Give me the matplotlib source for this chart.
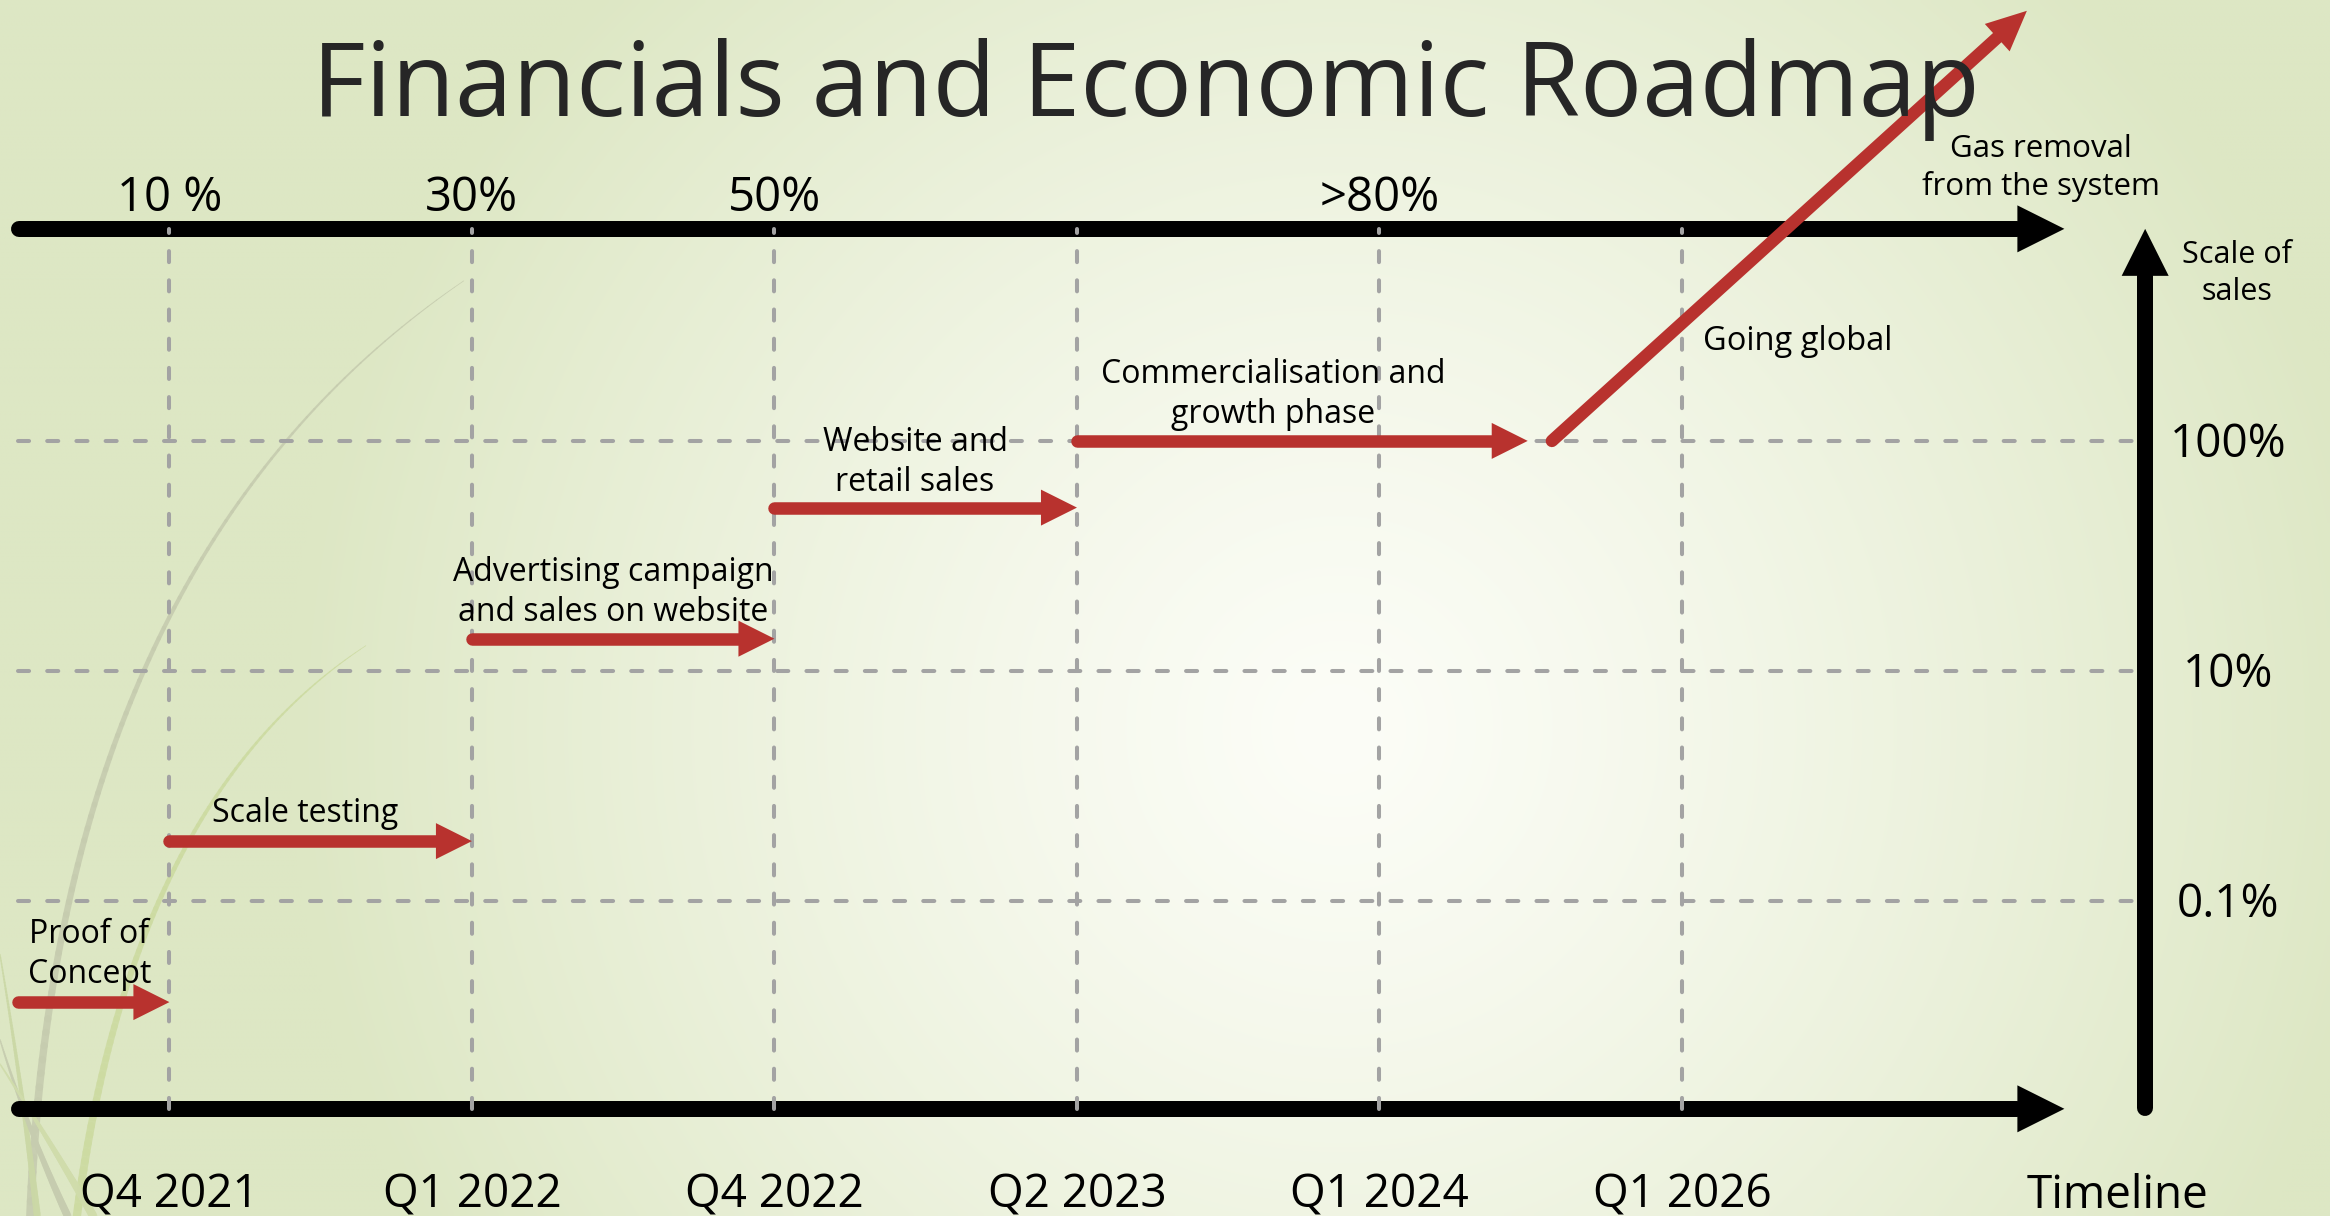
import numpy as np
import matplotlib
matplotlib.use("Agg")
import matplotlib.pyplot as plt
from matplotlib.patches import Polygon
from matplotlib.collections import LineCollection

plt.rcParams['font.family'] = ['Open Sans', 'DejaVu Sans']

# ---------------- data ----------------
quarters = ["Q4 2021", "Q1 2022", "Q4 2022", "Q2 2023", "Q1 2024", "Q1 2026"]
completion = ["10 %", "30%", "50%", "", ">80%", ""]
sales_scale = ["0.1%", "10%", "100%"]
sales_level = [1, 2, 3]

stages = ["Proof of\nConcept", "Scale testing",
          "Advertising campaign\nand sales on website",
          "Website and\nretail sales", "Commercialisation and\ngrowth phase"]
stage_start = [-0.50, 0, 1, 2, 3]
stage_end = [0, 1, 2, 3, 4.49]
stage_level = [0.56, 1.26, 2.14, 2.71, 3.0]
stage_label_x = [-0.265, 0.45, 1.466, 2.465, 3.648]
stage_label_y = [0.822, 1.343, 2.396, 2.961, 3.257]   # first-line baselines

global_start = (4.57, 3.0)
global_end = (6.14, 4.87)
global_labels = ["Going global", "Gas removal\nfrom the system"]
global_label_x = [5.384, 6.187]
global_label_y = [3.396, 4.230]

# ---------------- layout ----------------
X_MIN, X_MAX = -0.560, 7.142
Y_MIN, Y_MAX = -0.370, 4.917
TOP_AXIS, BOTTOM_AXIS = 3.922, 0.096
AXIS_LEFT, AXIS_TIP = -0.497, 6.264
SCALE_X, SCALE_BOTTOM = 6.531, 0.100

RED = '#b8322e'
GRID = '#a3a3a3'
INK = '#000000'

fig = plt.figure(figsize=(23.30, 12.16), dpi=100)
ax = fig.add_axes([0, 0, 1, 1])
ax.set_xlim(X_MIN, X_MAX)
ax.set_ylim(Y_MIN, Y_MAX)
ax.axis('off')

# ---------------- background ----------------
W, H = 466, 244
u = np.linspace(0, 1, W)[None, :]
v = np.linspace(0, 1, H)[:, None]
dx = (u - 0.575) * 2330
dy = (v - 0.60) * 1216
t = np.clip(np.hypot(dx, dy) / 1050.0, 0, 1) ** 1.25
centre = np.array([252, 253, 247]) / 255
edge = np.array([221, 231, 196]) / 255
img = centre[None, None, :] * (1 - t[..., None]) + edge[None, None, :] * t[..., None]
ax.imshow(img, extent=(X_MIN, X_MAX, Y_MIN, Y_MAX), origin='upper',
          aspect='auto', interpolation='bilinear', zorder=0)


def blade(p0, c, p1, w0, w1, color, alpha):
    """Tapered quadratic curve in axes-fraction coordinates."""
    s = np.linspace(0, 1, 90)[:, None]
    p0, c, p1 = map(np.asarray, (p0, c, p1))
    pts = (1 - s) ** 2 * p0 + 2 * (1 - s) * s * c + s ** 2 * p1
    segs = np.stack([pts[:-1], pts[1:]], axis=1)
    widths = np.linspace(w0, w1, len(segs))
    lc = LineCollection(segs, linewidths=widths, colors=color, alpha=alpha,
                        transform=ax.transAxes, zorder=1, capstyle='round')
    ax.add_collection(lc)


# decorative grass in the lower-left corner
blade((0.013, 0.0), (0.024, 0.54), (0.199, 0.769), 6.0, 0.5, '#c6ccaf', 0.9)
blade((0.033, 0.0), (0.056, 0.342), (0.157, 0.469), 6.0, 0.5, '#cddba2', 0.9)
blade((0.0, 0.215), (0.010, 0.10), (0.016, 0.0), 1.0, 5.0, '#cbd8a6', 0.85)
blade((0.0, 0.145), (0.012, 0.07), (0.029, 0.0), 1.0, 5.5, '#c6ccaf', 0.8)
blade((0.0, 0.125), (0.022, 0.06), (0.040, 0.0), 1.0, 6.0, '#d0dcab', 0.85)

# ---------------- arrow helper ----------------
T = ax.transData
Ti = T.inverted()


def arrow(p0, p1, lw_px, head_len, head_half, color, z):
    a = T.transform(p0)
    b = T.transform(p1)
    d = b - a
    unit = d / np.hypot(*d)
    nrm = np.array([-unit[1], unit[0]])
    base = b - unit * head_len
    shaft_end = Ti.transform(base)
    ax.plot([p0[0], shaft_end[0]], [p0[1], shaft_end[1]], color=color,
            lw=lw_px * 0.72, solid_capstyle='round', zorder=z)
    tri = np.array([b, base + nrm * head_half, base - nrm * head_half])
    ax.add_patch(Polygon(Ti.transform(tri), closed=True, facecolor=color,
                         edgecolor='none', zorder=z))


# ---------------- black axes ----------------
arrow((AXIS_LEFT, TOP_AXIS), (AXIS_TIP, TOP_AXIS), 16, 47, 23.5, INK, 2)
arrow((AXIS_LEFT, BOTTOM_AXIS), (AXIS_TIP, BOTTOM_AXIS), 16, 47, 23.5, INK, 2)
arrow((SCALE_X, SCALE_BOTTOM), (SCALE_X, TOP_AXIS), 16, 47, 23.5, INK, 2)

# ---------------- dashed grid ----------------
dash = (0, (2.75, 4.5))
grid_kw = dict(color=GRID, lw=2.9, ls=dash, dash_capstyle='round', zorder=3)
for i in range(len(quarters)):
    ax.plot([i, i], [BOTTOM_AXIS, TOP_AXIS], **grid_kw)
for lvl in sales_level:
    ax.plot([-0.50, SCALE_X], [lvl, lvl], **grid_kw)

# ---------------- stage arrows ----------------
for s0, s1, lvl in zip(stage_start, stage_end, stage_level):
    arrow((s0, lvl), (s1, lvl), 12.5, 36, 18, RED, 4)
arrow(global_start, global_end, 12.5, 40, 18.5, RED, 4)


def label(x, y, text, size):
    """Text whose first-line baseline sits at (x, y)."""
    if '\n' in text:
        ax.annotate(text, xy=(x, y), xytext=(0, 0.76 * size),
                    textcoords='offset points', ha='center', va='top',
                    fontsize=size, color=INK, linespacing=1.3, zorder=5)
    else:
        ax.text(x, y, text, ha='center', va='baseline', fontsize=size,
                color=INK, zorder=5)


for txt, lx, ly in zip(stages, stage_label_x, stage_label_y):
    label(lx, ly, txt, 23)
label(global_label_x[0], global_label_y[0], global_labels[0], 23.5)
label(global_label_x[1], global_label_y[1], global_labels[1], 22.5)
label(6.835, 3.774, "Scale of\nsales", 22)

# ---------------- axis texts ----------------
for i, q in enumerate(quarters):
    ax.text(i, -0.335, q, ha='center', va='baseline', fontsize=33, color=INK, zorder=5)
ax.text(6.438, -0.335, "Timeline", ha='center', va='baseline', fontsize=33,
        color=INK, zorder=5)
for i, c in enumerate(completion):
    if c:
        ax.text(i, 4.0, c, ha='center', va='baseline', fontsize=34, color=INK, zorder=5)
for lvl, s in zip(sales_level, sales_scale):
    ax.text(6.805, lvl - 0.072, s, ha='center', va='baseline', fontsize=33,
            color=INK, zorder=5)

ax.text(3.228, 4.413, "Financials and Economic Roadmap", ha='center',
        va='baseline', fontsize=74.5, color='#262626', zorder=5)

fig.savefig("out.png", dpi=100)
